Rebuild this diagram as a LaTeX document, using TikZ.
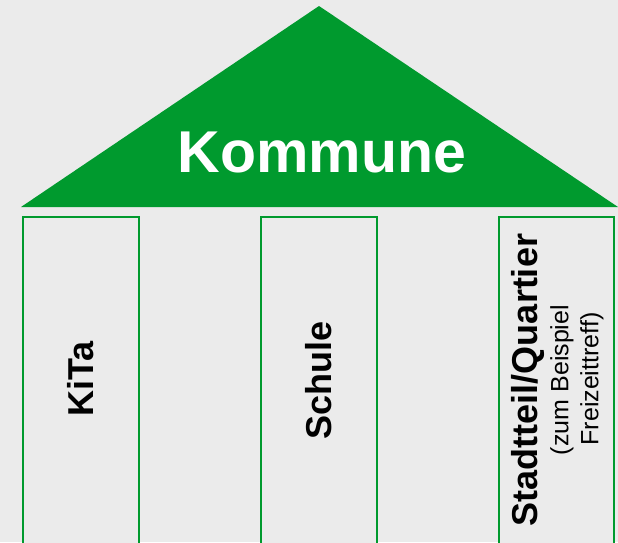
\documentclass[tikz,border=0pt]{standalone}
\usepackage{fontspec}
\setmainfont{Liberation Sans}
\definecolor{bg}{HTML}{EBEBEB}
\definecolor{grn}{HTML}{009A2E}
\begin{document}
\begin{tikzpicture}[x=1pt,y=-1pt,
  pillar/.style={draw=grn,line width=2pt,fill=bg},
  ptext/.style={rotate=90,font=\bfseries\fontsize{36}{36}\selectfont,inner sep=0pt},
  stext/.style={rotate=90,font=\fontsize{25}{25}\selectfont,inner sep=0pt}]
\fill[bg] (0,0) rectangle (618,542);
\useasboundingbox (0,0) rectangle (618,542);
\fill[grn] (21,207) -- (319,6) -- (618,207) -- cycle;
\node[text=white,font=\bfseries\fontsize{59}{59}\selectfont,inner sep=0pt] (komm) at (322,152) {Kommune};
\draw[pillar] (23,545) |- (139,217) -- (139,545);
\draw[pillar] (261,545) |- (377,217) -- (377,545);
\draw[pillar] (499,545) |- (614,217) -- (614,545);
\coordinate (p1) at (81,379);
\coordinate (p2) at (319,380);
\node[ptext] (kita) at (p1) {KiTa};
\node[ptext] (schule) at (p2) {Schule};
\node[ptext] (stadt) at (528,380) {Stadtteil/Quartier};
\node[stext] (bsp1) at (562,380) {(zum Beispiel};
\node[stext] (bsp2) at (592,379) {Freizeittreff)};
\end{tikzpicture}
\end{document}
